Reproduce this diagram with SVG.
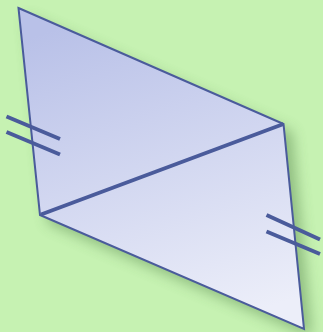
<svg xmlns="http://www.w3.org/2000/svg" width="323" height="332" viewBox="0 0 323 332">
<defs>
<linearGradient id="g" x1="0.35" y1="0" x2="0.65" y2="1">
<stop offset="0" stop-color="#b9c1e8"/>
<stop offset="1" stop-color="#eceef9"/>
</linearGradient>
<filter id="sh" x="-20%" y="-20%" width="140%" height="140%">
<feGaussianBlur stdDeviation="7"/>
</filter>
<style>
.e{stroke:#4a5b9b;stroke-width:2;fill:url(#g);stroke-linejoin:miter}
.t{stroke:#4a5b9b;stroke-width:4;stroke-linecap:butt}
</style>
</defs>
<rect width="323" height="332" fill="#c6f2b2"/>
<g id="shadow">
<polygon points="26,16 292,132 312,337 48,223" fill="#3a6a30" opacity="0.4" filter="url(#sh)"/>
</g>
<g id="shape">
<polygon points="18.5,8 283.5,124 304,329 40,215" class="e"/>
</g>
<g id="connectors">
<line x1="41" y1="214.5" x2="283.5" y2="124" class="t"/>
<line x1="6.5" y1="116.5" x2="60" y2="139" class="t"/>
<line x1="6.5" y1="132" x2="60" y2="154.5" class="t"/>
<line x1="266.5" y1="215" x2="320" y2="239.5" class="t"/>
<line x1="266.5" y1="231.5" x2="320" y2="254" class="t"/>
</g>
</svg>
